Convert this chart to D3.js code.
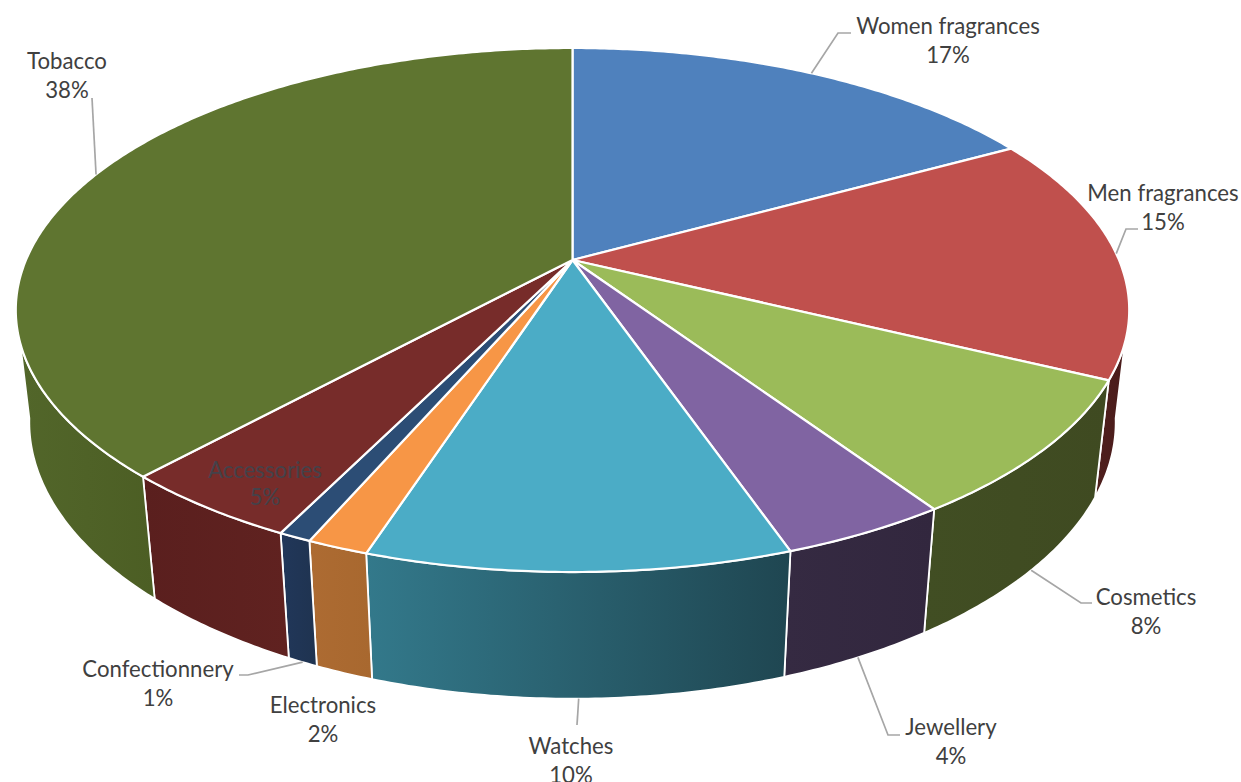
<!DOCTYPE html>
<html>
<head>
<meta charset="utf-8">
<script src="https://cdn.jsdelivr.net/npm/d3@7"></script>
<style>
  body { margin: 0; background: #fff; }
  text { font-family: Lato, "Open Sans", sans-serif; font-size: 22.2px; fill: #404040; text-anchor: middle; }
</style>
</head>
<body>
<svg id="chart" width="1241" height="782"></svg>
<script>
var categories = ["Women fragrances", "Men fragrances", "Cosmetics", "Jewellery", "Watches", "Electronics", "Confectionnery", "Accessories", "Tobacco"];
var shares = [17, 15.2, 8.4, 4.1, 10.3, 1.5, 0.8, 4.5, 38.2];

var topColors = ["#4f81bd", "#c0504d", "#9bbb59", "#8064a2", "#4bacc6", "#f79646", "#2c4d75", "#772c2a", "#5f7530"];
var wallLeft = ["#3a5a85", "#4f1f1d", "#414e23", "#352a42", "#33798b", "#ad6b32", "#21375a", "#5a1f1e", "#52662a"];
var wallRight = ["#2f4a6e", "#4a1c1b", "#3f4a21", "#32273e", "#1f4651", "#a8682f", "#1f3350", "#602220", "#4c5e24"];

// label centre x, first baseline y, then the leader's bend and end (none for Electronics / Accessories)
var labelPlaces = [
	{x: 948, y: 34, leader: [[838, 33], [851, 33]]},
	{x: 1163, y: 201, leader: [[1126, 229], [1138, 229]]},
	{x: 1146, y: 605, leader: [[1081, 603], [1092, 603]], lower: true},
	{x: 951, y: 735, leader: [[888, 735], [900, 735]], lower: true},
	{x: 571, y: 754, leader: [[577, 725]], lower: true},
	{x: 323, y: 713},
	{x: 158, y: 677, leader: [[248, 675], [239, 675]], lower: true},
	{x: 265, y: 478},
	{x: 67, y: 69, leader: [[92, 98]]}
];

var svg = d3.select("#chart");
var defs = svg.append("defs");

// the disc is seen in perspective, so the hub is not the middle of the ellipse
var hubX = 572.5, hubY = 260, spreadX = 546.5, spreadY = 252.5, tilt = 0.1908;
var depthW = 0.024, depthH = 113;

function project(a, r, low) {
	var u = Math.sin(a) * r, v = Math.cos(a) * r;
	var w = 1 + tilt * v + (low ? depthW : 0);
	return [hubX + spreadX * u / w, hubY + (-spreadY * v + (low ? depthH : 0)) / w];
}

function rim(a0, a1, low) {
	var n = Math.max(2, Math.ceil((a1 - a0) / 0.01));
	return d3.range(n + 1).map(function (i) {
		return project(a0 + (a1 - a0) * i / n, 1, low);
	});
}

var rad = Math.PI / 180;
var line = d3.line();
var pie = d3.pie().sort(null).startAngle(0).endAngle(2 * Math.PI);
var slices = pie(shares);

// walls, only on the part of the rim facing the viewer
var upFrom = 108 * rad, upTo = 252 * rad, lowFrom = 100 * rad, lowTo = 260 * rad;
slices.forEach(function (d, i) {
	var a0 = Math.max(d.startAngle, upFrom), a1 = Math.min(d.endAngle, upTo);
	var b0 = Math.max(d.startAngle, lowFrom), b1 = Math.min(d.endAngle, lowTo);
	if (a1 <= a0) return;
	var grad = defs.append("linearGradient").attr("id", "wall" + i);
	grad.append("stop").attr("offset", "0%").attr("stop-color", wallLeft[i]);
	grad.append("stop").attr("offset", "100%").attr("stop-color", wallRight[i]);
	var pts = rim(a0, a1, false).concat(rim(b0, b1, true).reverse());
	svg.append("path")
		.attr("d", line(pts) + "Z")
		.attr("fill", "url(#wall" + i + ")")
		.attr("stroke", "#fff")
		.attr("stroke-width", 1.8)
		.attr("stroke-linejoin", "round");
});

// top face
svg.selectAll(".slice")
	.data(slices)
	.enter().append("path")
	.attr("class", "slice")
	.attr("d", function (d) {
		return line([[hubX, hubY]].concat(rim(d.startAngle, d.endAngle, false))) + "Z";
	})
	.attr("fill", function (d, i) { return topColors[i]; })
	.attr("stroke", "#fff")
	.attr("stroke-width", 2.2)
	.attr("stroke-linejoin", "round");

// leaders
slices.forEach(function (d, i) {
	var place = labelPlaces[i];
	if (!place.leader) return;
	var start = project((d.startAngle + d.endAngle) / 2, 1, place.lower);
	svg.append("path")
		.attr("d", line([start].concat(place.leader)))
		.attr("fill", "none")
		.attr("stroke", "#a6a6a6")
		.attr("stroke-width", 1.7);
});

// labels
categories.forEach(function (name, i) {
	var place = labelPlaces[i];
	var dim = name == "Accessories";
	svg.append("text").attr("x", place.x).attr("y", place.y).text(name)
		.style("fill", dim ? "#44424a" : null);
	svg.append("text").attr("x", place.x).attr("y", place.y + (dim ? 27 : 29)).text(Math.round(shares[i]) + "%")
		.style("fill", dim ? "#44424a" : null);
});
</script>
</body>
</html>
